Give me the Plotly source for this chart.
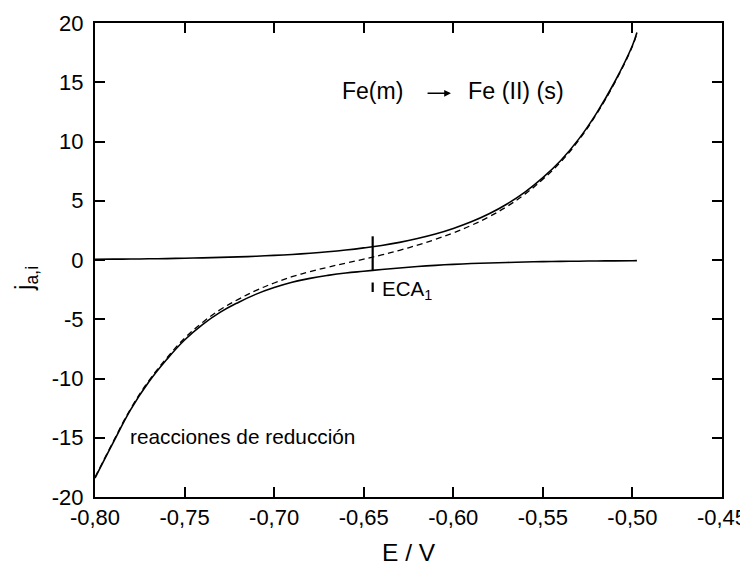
import plotly.graph_objects as go

# Potential (V)
E = [-0.80, -0.79, -0.78, -0.77, -0.76, -0.75, -0.74, -0.73, -0.72, -0.71,
     -0.70, -0.69, -0.68, -0.67, -0.66, -0.65, -0.64, -0.63, -0.62, -0.61,
     -0.60, -0.59, -0.58, -0.57, -0.56, -0.55, -0.54, -0.53, -0.52, -0.51,
     -0.50, -0.4975]

# anodic partial current
j_anodic = [0.06, 0.07, 0.08, 0.10, 0.12, 0.15, 0.18, 0.22, 0.26, 0.32,
            0.39, 0.47, 0.57, 0.69, 0.84, 1.02, 1.23, 1.49, 1.81, 2.19,
            2.66, 3.22, 3.90, 4.73, 5.73, 6.95, 8.40, 10.2, 12.4, 15.0,
            18.1, 19.2]

# cathodic partial current
j_cathodic = [-18.4, -15.45, -12.6, -10.3, -8.4, -6.75, -5.45, -4.4, -3.58, -2.88,
              -2.33, -1.88, -1.55, -1.30, -1.10, -0.95, -0.80, -0.67, -0.55, -0.45,
              -0.37, -0.30, -0.25, -0.21, -0.17, -0.14, -0.12, -0.10, -0.08, -0.07,
              -0.06, -0.05]

# net current (dashed)
j_net = [-18.34, -15.38, -12.52, -10.20, -8.28, -6.60, -5.27, -4.18, -3.32, -2.56,
         -1.94, -1.41, -0.98, -0.61, -0.26, 0.07, 0.43, 0.82, 1.26, 1.74,
         2.29, 2.92, 3.65, 4.52, 5.56, 6.81, 8.28, 10.10, 12.32, 14.93,
         18.04, 19.15]

# ECA1 marker
E_eca = [-0.645, -0.645, None, -0.645, -0.645]
j_eca = [2.0, -0.93, None, -1.9, -2.7]

x_tickvals = [-0.80, -0.75, -0.70, -0.65, -0.60, -0.55, -0.50, -0.45]
x_ticktext = ["-0,80", "-0,75", "-0,70", "-0,65", "-0,60", "-0,55", "-0,50", "-0,45"]
y_tickvals = [-20, -15, -10, -5, 0, 5, 10, 15, 20]
y_ticktext = ["-20", "-15", "-10", "-5", "0", "5", "10", "15", "20"]

FONT = "Liberation Sans, Arial, sans-serif"

fig = go.Figure()
fig.add_trace(go.Scatter(x=E, y=j_anodic, mode="lines",
                         line=dict(color="black", width=1.6, shape="spline", smoothing=1.2),
                         showlegend=False, hoverinfo="skip"))
fig.add_trace(go.Scatter(x=E, y=j_cathodic, mode="lines",
                         line=dict(color="black", width=1.6, shape="spline", smoothing=1.2),
                         showlegend=False, hoverinfo="skip"))
fig.add_trace(go.Scatter(x=E, y=j_net, mode="lines",
                         line=dict(color="black", width=1.3, dash="6px,4px", shape="spline", smoothing=1.2),
                         showlegend=False, hoverinfo="skip"))
fig.add_trace(go.Scatter(x=E_eca, y=j_eca, mode="lines", line=dict(color="black", width=2.2),
                         connectgaps=False, showlegend=False, hoverinfo="skip"))

axis_common = dict(showline=True, linecolor="black", linewidth=2, mirror="ticks",
                   ticks="inside", ticklen=10, tickwidth=1.5, tickcolor="black",
                   showgrid=False, zeroline=False, automargin=False,
                   tickfont=dict(family=FONT, size=22, color="black"))

fig.update_xaxes(range=[-0.80, -0.45], tickvals=x_tickvals, ticktext=x_ticktext, **axis_common)
fig.update_yaxes(range=[-20, 20], tickvals=y_tickvals, ticktext=y_ticktext,
                 ticklabelstandoff=5, **axis_common)

annotations = [
    dict(x=0.5, y=-0.117, xref="paper", yref="paper", text="E / V", showarrow=False,
         font=dict(family=FONT, size=24.5, color="black"), xanchor="center", yanchor="middle",
         borderpad=0),
    dict(x=-0.110, y=0.46, xref="paper", yref="paper", text="j<sub>a,i</sub>", showarrow=False,
         textangle=-90, font=dict(family=FONT, size=25, color="black"),
         xanchor="center", yanchor="middle"),
    dict(x=-0.6632, y=14.3, text="Fe(m)", showarrow=False, xanchor="left", yanchor="middle",
         font=dict(family=FONT, size=23, color="black")),
    dict(x=-0.5929, y=14.3, text="Fe (II) (s)", showarrow=False, xanchor="left", yanchor="middle",
         font=dict(family=FONT, size=23.3, color="black")),
    dict(x=-0.6013, y=14.07, ax=-0.6152, ay=14.07, xref="x", yref="y", axref="x", ayref="y",
         text="", showarrow=True, arrowhead=2, arrowsize=0.9, arrowwidth=1.5, arrowcolor="black",
         standoff=0, startstandoff=0),
    dict(x=-0.7818, y=-14.9, text="reacciones de reducción", showarrow=False,
         xanchor="left", yanchor="middle", font=dict(family=FONT, size=20.8, color="black")),
    dict(x=-0.6408, y=-2.53, text="ECA<sub>1</sub>", showarrow=False,
         xanchor="left", yanchor="middle", font=dict(family=FONT, size=20.5, color="black")),
]

fig.update_layout(width=740, height=559, margin=dict(l=87, r=26, t=15, b=70, autoexpand=False),
                  paper_bgcolor="white", plot_bgcolor="white",
                  annotations=annotations, font=dict(family=FONT, color="black"))

fig.write_html("out.html")
